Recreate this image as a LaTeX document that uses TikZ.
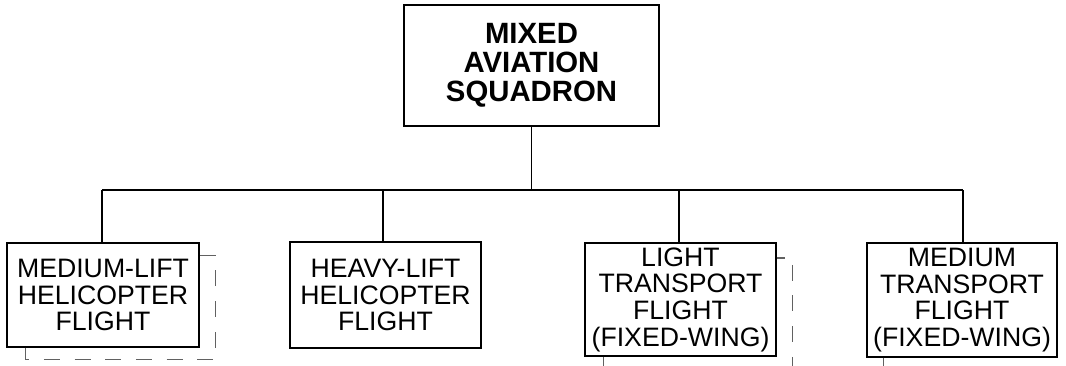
\documentclass[tikz,border=0pt]{standalone}
\usepackage{fontspec}
\setmainfont{Liberation Sans}
\usetikzlibrary{calc}
\tikzset{
  unitbox/.style={draw, line width=1.1pt, inner sep=0pt, align=center,
    font=\fontsize{20}{20}\selectfont},
  hq/.style={draw, line width=1.1pt, inner sep=0pt, align=center,
    text width=191pt, minimum height=91pt,
    font=\fontsize{22}{21.8}\selectfont\bfseries},
  link/.style={line width=1.1pt},
  shadow/.style={draw=black!62, line width=1.1pt, dash pattern=on 12pt off 11pt}
}
\begin{document}
\begin{tikzpicture}[x=0.75pt,y=-0.75pt]
\useasboundingbox (0,0) rectangle (1066,366);
\node[hq] (sq) at (531.5,65.5) {MIXED\\AVIATION\\SQUADRON};
\node[unitbox, text width=144pt, minimum height=78pt] (b1) at (103,295) {MEDIUM-LIFT\\HELICOPTER\\FLIGHT};
\node[unitbox, text width=143pt, minimum height=79.5pt] (b2) at (385.5,295) {HEAVY-LIFT\\HELICOPTER\\FLIGHT};
\node[unitbox, text width=143pt, minimum height=85pt] (b3) at (680.5,299.5) {LIGHT\\TRANSPORT\\FLIGHT\\(FIXED-WING)};
\node[unitbox, text width=142.5pt, minimum height=85.5pt] (b4) at (962,300) {MEDIUM\\TRANSPORT\\FLIGHT\\(FIXED-WING)};
\coordinate (bus) at (531,190);
\draw[link] (sq.south) -- (sq.south |- bus);
\draw[link] ([xshift=-0.75pt]b1.north |- bus) -- ([xshift=0.75pt]b4.north |- bus);
\draw[link] ([xshift=-0.75pt]b1.north) -- ([xshift=-0.75pt]b1.north |- bus);
\draw[link] ([xshift=-1.9pt]b2.north) -- ([xshift=-1.9pt]b2.north |- bus);
\draw[link] ([xshift=-1.1pt]b3.north) -- ([xshift=-1.1pt]b3.north |- bus);
\draw[link] ([xshift=0.75pt]b4.north) -- ([xshift=0.75pt]b4.north |- bus);
\begin{scope}
\clip (0,0) rectangle (1066,366);
\draw[shadow] ($(b1.south west)+(19,0)$) -- ($(b1.south west)+(19,12)$) -- ($(b1.south east)+(16,12)$) -- ($(b1.north east)+(16,13)$) -- ($(b1.north east)+(0,13)$);
\draw[shadow] ($(b3.south west)+(19,0)$) -- ($(b3.south west)+(19,40)$);
\draw[shadow, dash phase=6pt] ($(b3.north east)+(0,16)$) -- ($(b3.north east)+(16,16)$) -- ($(b3.south east)+(16,40)$);
\draw[shadow] ($(b4.south west)+(17,0)$) -- ($(b4.south west)+(17,40)$);
\end{scope}
\end{tikzpicture}
\end{document}
